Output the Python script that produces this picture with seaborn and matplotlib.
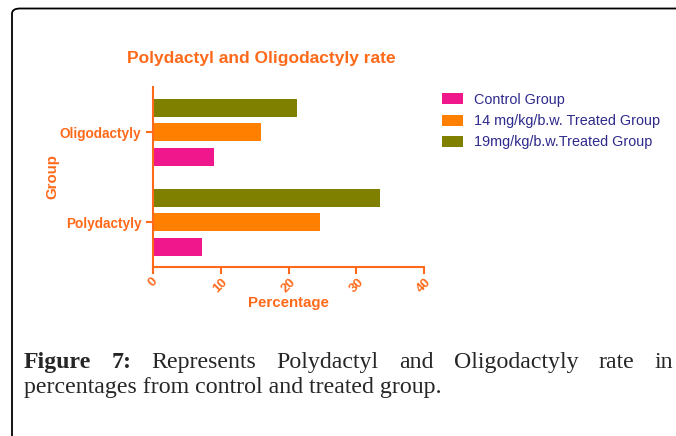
import pandas as pd
import matplotlib
matplotlib.use("Agg")
from matplotlib import pyplot as plt
from matplotlib.patches import FancyBboxPatch, Patch
import seaborn as sns

# data
groups = ["Oligodactyly", "Polydactyly"]
treatments = ["Control Group", "14 mg/kg/b.w. Treated Group", "19mg/kg/b.w.Treated Group"]
control = [9.0, 7.2]
dose14 = [15.9, 24.7]
dose19 = [21.3, 33.5]
x_ticks = [0, 10, 20, 30, 40]

df = pd.DataFrame({
    "Group": groups * 3,
    "Treatment": [treatments[0]] * 2 + [treatments[1]] * 2 + [treatments[2]] * 2,
    "Percentage": control + dose14 + dose19,
})

orange = "#FF6A1A"
navy = "#2E2A8C"
palette = {treatments[0]: "#F0168C", treatments[1]: "#FF8000", treatments[2]: "#808000"}

sns.set_style("white")
plt.rcParams['font.family'] = ['Liberation Sans', 'DejaVu Sans']

fig = plt.figure(figsize=(6.76, 4.36), dpi=100)
ax = fig.add_axes([0.2259, 0.3883, 0.4018, 0.4128])

# hue order reversed so the olive bar sits on top within each group
sns.barplot(data=df, y="Group", x="Percentage", hue="Treatment",
            order=groups, hue_order=treatments[::-1], palette=palette,
            orient="h", width=0.814, gap=0.265, linewidth=0, saturation=1,
            legend=False, ax=ax)

ax.set_xlim(0, 40)
ax.set_ylim(1.49, -0.505)
ax.set_xticks(x_ticks)
ax.set_xticklabels([str(t) for t in x_ticks], rotation=45, ha="center", va="top",
                   color=orange, fontweight="bold", fontsize=9.5)
ax.set_yticks(range(len(groups)))
ax.set_yticklabels(groups, color=orange, fontweight="bold", fontsize=9.8)
ax.tick_params(axis="both", colors=orange, direction="out", length=5, width=1.5,
               left=True, bottom=True)
ax.tick_params(axis="x", pad=1.5)
ax.tick_params(axis="y", pad=3)
for s in ["top", "right"]:
    ax.spines[s].set_visible(False)
for s in ["left", "bottom"]:
    ax.spines[s].set_color(orange)
    ax.spines[s].set_linewidth(1.5)

ax.set_xlabel("Percentage", color=orange, fontweight="bold", fontsize=10.8)
ax.set_ylabel("Group", color=orange, fontweight="bold", fontsize=10.8)
ax.xaxis.set_label_coords(0.5, -36 / 180, transform=ax.transAxes)
ax.yaxis.set_label_coords(-100 / 271.6, 0.5, transform=ax.transAxes)
ax.xaxis.label.set_va("center")
ax.yaxis.label.set_va("center")

fig.text(0.386, 1 - 59 / 436, "Polydactyl and Oligodactyly rate", color=orange,
         fontweight="bold", fontsize=12.5, ha="center", va="center")

handles = [Patch(facecolor=palette[t], edgecolor="none") for t in treatments]
leg = fig.legend(handles, treatments, loc="upper left", bbox_to_anchor=(0.646, 0.800),
                 frameon=False, fontsize=10.4, handlelength=1.45, handleheight=0.8,
                 handletextpad=0.75, labelspacing=0.5, borderaxespad=0)
for txt in leg.get_texts():
    txt.set_color(navy)

# rounded frame around the panel
frame = FancyBboxPatch((12 / 676, -0.1), 1.0, 1.1 - 8.5 / 436,
                       boxstyle="round,pad=0,rounding_size=0.012",
                       transform=fig.transFigure, facecolor="none",
                       edgecolor="black", linewidth=1.3)
fig.patches.append(frame)

# caption, first line justified between the frame margins
serif = ["Liberation Serif", "DejaVu Serif"]
line1 = [("Figure", "bold"), ("7:", "bold"), ("Represents", "normal"), ("Polydactyl", "normal"),
         ("and", "normal"), ("Oligodactyly", "normal"), ("rate", "normal"), ("in", "normal")]
left_px, right_px = 24, 673
y1 = 1 - 368 / 436
cap_size = 17.2
words = [fig.text(0, y1, w, fontsize=cap_size, fontweight=fw, family=serif,
                  ha="left", va="baseline") for w, fw in line1]
fig.canvas.draw()
renderer = fig.canvas.get_renderer()
widths = [t.get_window_extent(renderer).width for t in words]
gap = (right_px - left_px - sum(widths)) / (len(words) - 1)
x = left_px
for t, w in zip(words, widths):
    t.set_x(x / 676)
    x += w + gap
fig.text(left_px / 676, 1 - 393 / 436, "percentages from control and treated group.",
         fontsize=cap_size, family=serif, ha="left", va="baseline")

fig.savefig("out.png", dpi=100)
